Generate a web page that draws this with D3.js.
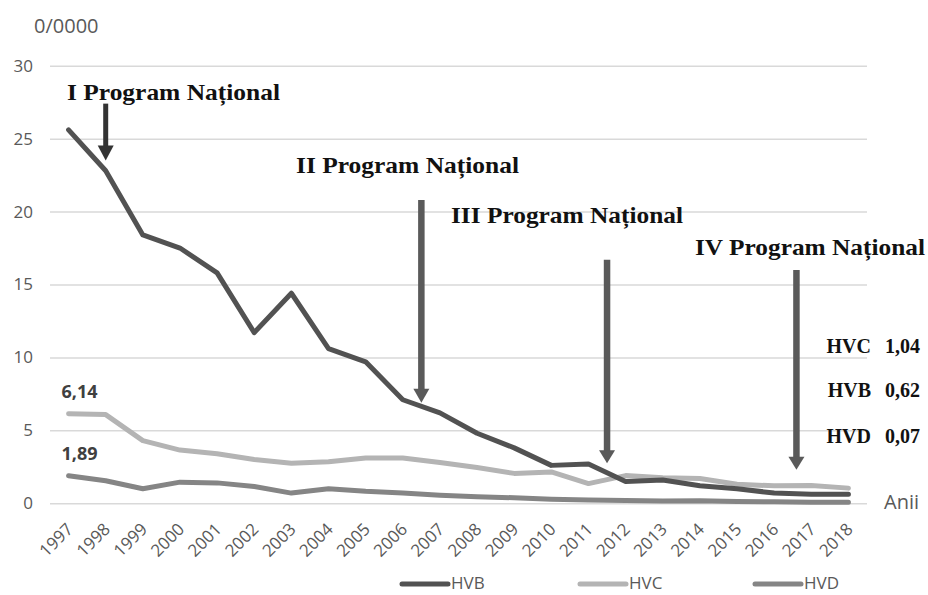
<!DOCTYPE html>
<html>
<head>
<meta charset="utf-8">
<script src="https://cdn.jsdelivr.net/npm/d3@7"></script>
<style>
  html, body { margin: 0; padding: 0; background: #fff; }
  svg { display: block; }
</style>
</head>
<body>
<svg id="chart" width="928" height="595"></svg>
<script>
// ---- data ----
const years = ["1997","1998","1999","2000","2001","2002","2003","2004","2005","2006","2007","2008","2009","2010","2011","2012","2013","2014","2015","2016","2017","2018"];
const hvb = [25.6, 22.8, 18.4, 17.5, 15.8, 11.7, 14.4, 10.6, 9.7, 7.1, 6.2, 4.8, 3.8, 2.6, 2.7, 1.5, 1.6, 1.2, 1.0, 0.7, 0.62, 0.62];
const hvc = [6.14, 6.08, 4.3, 3.65, 3.4, 3.0, 2.75, 2.85, 3.1, 3.1, 2.8, 2.45, 2.05, 2.15, 1.35, 1.9, 1.75, 1.7, 1.3, 1.2, 1.22, 1.04];
const hvd = [1.89, 1.55, 1.0, 1.45, 1.4, 1.15, 0.7, 1.0, 0.82, 0.7, 0.55, 0.45, 0.38, 0.28, 0.22, 0.2, 0.15, 0.18, 0.12, 0.1, 0.07, 0.07];
const seriesNames = ["HVB", "HVC", "HVD"];
const yTicks = [0, 5, 10, 15, 20, 25, 30];
const programLabels = ["I Program Național", "II Program Național", "III Program Național", "IV Program Național"];
const programYearPos = [1998, 2006.5, 2011.5, 2016.6];   // arrow position along year axis
const programArrowTop = [27.4, 20.8, 16.7, 16.0];
const programArrowTip = [23.5, 6.9, 2.75, 2.3];
const endLabels = ["HVC", "HVB", "HVD"];
const endValues = ["1,04", "0,62", "0,07"];
const startLabels = ["6,14", "1,89"];
const unitLabel = "0/0000";
const xAxisName = "Anii";

// ---- setup ----
const svg = d3.select("#chart");
const pLeft = 50, pRight = 867, pTop = 65.7, pBottom = 503.3;

const x = d3.scalePoint().domain(years).range([pLeft, pRight]).padding(0.5);
const y = d3.scaleLinear().domain([0, 30]).range([pBottom, pTop]);
const step = x.step();
const xYear = v => x(years[0]) + (v - (+years[0])) * step;

const colors = {HVB: "#525252", HVC: "#b4b4b4", HVD: "#858585"};
const dataBy = {HVB: hvb, HVC: hvc, HVD: hvd};
const sans = "'Open Sans', sans-serif";
const serif = "'Liberation Serif', 'Times New Roman', serif";

// gridlines
const yAxis = d3.axisLeft(y).tickValues(yTicks).tickSize(-(pRight - pLeft)).tickFormat(d3.format("d")).tickPadding(17);
const gy = svg.append("g").attr("transform", `translate(${pLeft},0)`).call(yAxis);
gy.select(".domain").remove();
gy.selectAll(".tick line").attr("stroke", "#d9d9d9").attr("stroke-width", 1.5);
gy.selectAll(".tick text").attr("fill", "#595959").attr("font-family", sans).attr("font-size", 17);

// x axis labels
const xAxis = d3.axisBottom(x).tickSize(0).tickPadding(0);
const gx = svg.append("g").attr("transform", `translate(0,${pBottom})`).call(xAxis);
gx.select(".domain").remove();
gx.selectAll(".tick text")
  .attr("fill", "#595959")
  .attr("font-family", sans)
  .attr("font-size", 17)
  .attr("text-anchor", "end")
  .attr("y", 0)
  .attr("dy", 0)
  .attr("transform", "translate(5,27) rotate(-45)");

// lines
const line = d3.line().x((d, i) => x(years[i])).y(d => y(d)).curve(d3.curveLinear);
["HVD", "HVC", "HVB"].forEach(name => {
  svg.append("path")
    .datum(dataBy[name])
    .attr("fill", "none")
    .attr("stroke", colors[name])
    .attr("stroke-width", 5)
    .attr("stroke-linejoin", "round")
    .attr("stroke-linecap", "round")
    .attr("d", line);
});

// unit label and axis name
svg.append("text").attr("x", 34).attr("y", 33).text(unitLabel)
  .attr("fill", "#595959").attr("font-family", sans).attr("font-size", 20);
svg.append("text").attr("x", 884).attr("y", 509).text(xAxisName)
  .attr("fill", "#595959").attr("font-family", sans).attr("font-size", 20);

// start labels
const startVals = [hvc[0], hvd[0]];
startLabels.forEach((t, i) => {
  svg.append("text").attr("x", x(years[0]) - 7).attr("y", y(startVals[i]) - 16).text(t)
    .attr("fill", "#404040").attr("font-family", sans).attr("font-size", 18).attr("font-weight", 700);
});

// arrows
const arrowStyles = [
  {color: "#333333", w: 5, hw: 8, hl: 15},
  {color: "#5a5a5a", w: 6.5, hw: 8, hl: 14},
  {color: "#5a5a5a", w: 6.5, hw: 8, hl: 13},
  {color: "#5a5a5a", w: 6.5, hw: 8, hl: 13}
];
programYearPos.forEach((yr, i) => {
  const ax = xYear(yr), y0 = y(programArrowTop[i]), y1 = y(programArrowTip[i]);
  const s = arrowStyles[i];
  svg.append("line").attr("x1", ax).attr("x2", ax).attr("y1", y0).attr("y2", y1 - s.hl + 1)
    .attr("stroke", s.color).attr("stroke-width", s.w);
  svg.append("path")
    .attr("d", `M${ax - s.hw},${y1 - s.hl} L${ax + s.hw},${y1 - s.hl} L${ax},${y1} Z`)
    .attr("fill", s.color);
});

// program labels
const labelPos = [[67, 100, 213], [296, 173, 223], [451, 223, 232], [695, 255, 230]];
programLabels.forEach((t, i) => {
  svg.append("text").attr("x", labelPos[i][0]).attr("y", labelPos[i][1]).text(t)
    .attr("fill", "#111").attr("font-family", serif)
    .attr("font-size", 23).attr("font-weight", 700)
    .attr("textLength", labelPos[i][2]).attr("lengthAdjust", "spacingAndGlyphs");
});

// end labels
const endBaselines = [353, 397, 443];
endLabels.forEach((t, i) => {
  svg.append("text").attr("x", 871).attr("y", endBaselines[i]).text(t)
    .attr("text-anchor", "end")
    .attr("fill", "#111").attr("font-family", serif)
    .attr("font-size", 20).attr("font-weight", 700);
  svg.append("text").attr("x", 920).attr("y", endBaselines[i]).text(endValues[i])
    .attr("text-anchor", "end")
    .attr("fill", "#111").attr("font-family", serif)
    .attr("font-size", 20).attr("font-weight", 700);
});

// legend
const legendX = [402, 580, 755];
const lg = svg.append("g");
seriesNames.forEach((n, i) => {
  lg.append("line").attr("x1", legendX[i]).attr("x2", legendX[i] + 46).attr("y1", 584).attr("y2", 584)
    .attr("stroke", colors[n]).attr("stroke-width", 5).attr("stroke-linecap", "round");
  lg.append("text").attr("x", legendX[i] + 49).attr("y", 589).text(n)
    .attr("fill", "#595959").attr("font-family", sans).attr("font-size", 17);
});
</script>
</body>
</html>
